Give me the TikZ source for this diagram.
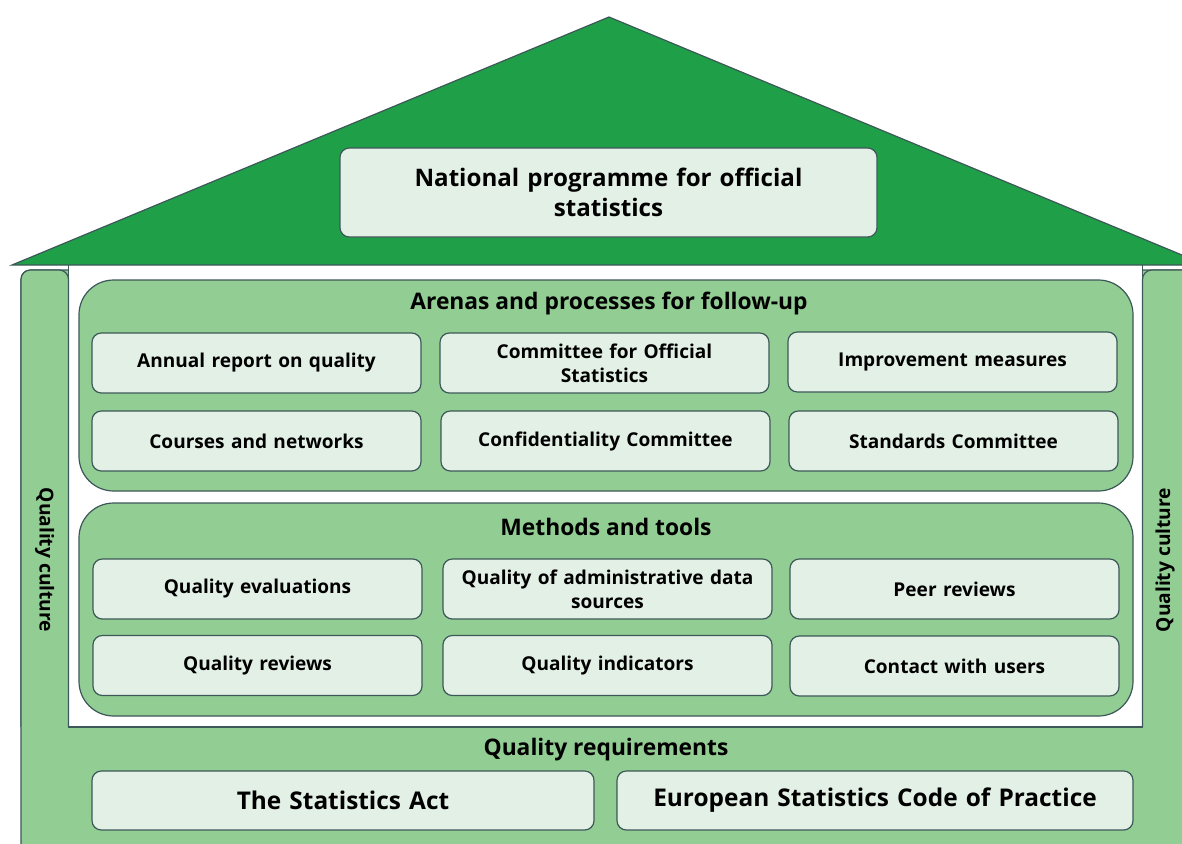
\documentclass[tikz,border=0pt]{standalone}
\usepackage{fontspec}
\setmainfont{Open Sans}
\definecolor{roofgreen}{HTML}{1F9F48}
\definecolor{midgreen}{HTML}{92CD94}
\definecolor{boxfill}{HTML}{E3F0E6}
\definecolor{edge}{HTML}{3C5858}
\begin{document}
\begin{tikzpicture}[x=0.75pt,y=-0.75pt,
  item/.style={draw=edge,line width=0.9pt,fill=boxfill,rounded corners=7pt,font=\bfseries\fontsize{14.3}{18}\selectfont,align=center,inner sep=0pt,text width=#1},
  item/.default=235pt,
  cell/.style={item,minimum width=246.75pt,minimum height=45pt},
  panel/.style={draw=edge,line width=0.9pt,fill=midgreen,rounded corners=26pt},
  ttl/.style={font=\bfseries\fontsize{17.1}{19}\selectfont},
  vert/.style={font=\bfseries\fontsize{14.4}{16}\selectfont},
  line/.style={draw=edge,line width=0.9pt}]
\useasboundingbox (0,0) rectangle (1182,843);
\clip (0,0) rectangle (1182,843);
% base
\draw[line,fill=midgreen,rounded corners=7pt] (21,270) rectangle (1200,870);
\fill[white] (68.5,262) rectangle (1142.5,727);
\draw[line] (68.5,262) -- (68.5,727) -- (1142.5,727) -- (1142.5,262);
% pillar tops (rounded)
\draw[line,fill=midgreen,rounded corners=7pt] (21,727) -- (21,270) -- (68.5,270) -- (68.5,727);
\draw[line,fill=midgreen,rounded corners=7pt] (1142.5,727) -- (1142.5,270) -- (1200,270) -- (1200,727);
% roof
\draw[line,fill=roofgreen,line join=miter] (12,265) -- (609,17) -- (1206,265) -- cycle;
\node[item=400pt,minimum width=402.75pt,minimum height=66.75pt,font=\bfseries\fontsize{18.1}{22}\selectfont] (nat) at (608.5,192.5) {National programme for official\\statistics};
% quality culture
\node[vert,rotate=-90] (qcl) at (44.5,560) {Quality culture};
\node[vert,rotate=90] (qcr) at (1165,560) {Quality culture};
% arenas panel
\draw[panel] (79,280) rectangle (1133,491);
\node[ttl] (arenas) at (609,304) {Arenas and processes for follow-up};
\node[cell] (a1) at (256.5,363) {Annual report on quality};
\node[cell] (a2) at (604.5,363) {Committee for Official\\Statistics};
\node[cell] (a3) at (952.5,362) {Improvement measures};
\node[cell] (a4) at (256.5,441) {Courses and networks};
\node[cell] (a5) at (605.5,441) {Confidentiality Committee};
\node[cell] (a6) at (953.5,441) {Standards Committee};
% methods panel
\draw[panel] (79,503) rectangle (1133,716);
\node[ttl] (methods) at (606,527) {Methods and tools};
\node[cell] (m1) at (257.5,589) {Quality evaluations};
\node[cell] (m2) at (607.5,589) {Quality of administrative data\\sources};
\node[cell] (m3) at (954.5,589) {Peer reviews};
\node[cell] (m4) at (257.5,665.5) {Quality reviews};
\node[cell] (m5) at (607.5,665.5) {Quality indicators};
\node[cell] (m6) at (954.5,666) {Contact with users};
% requirements
\node[ttl] (req) at (606,750) {Quality requirements};
\node[item=370pt,minimum width=376.5pt,minimum height=44.25pt,font=\bfseries\fontsize{18.3}{20}\selectfont] (r1) at (343,800.5) {The Statistics Act};
\node[item=380pt,minimum width=387pt,minimum height=44.25pt,font=\bfseries\fontsize{18.3}{20}\selectfont] (r2) at (875,800.5) {European Statistics Code of Practice};
\end{tikzpicture}
\end{document}
